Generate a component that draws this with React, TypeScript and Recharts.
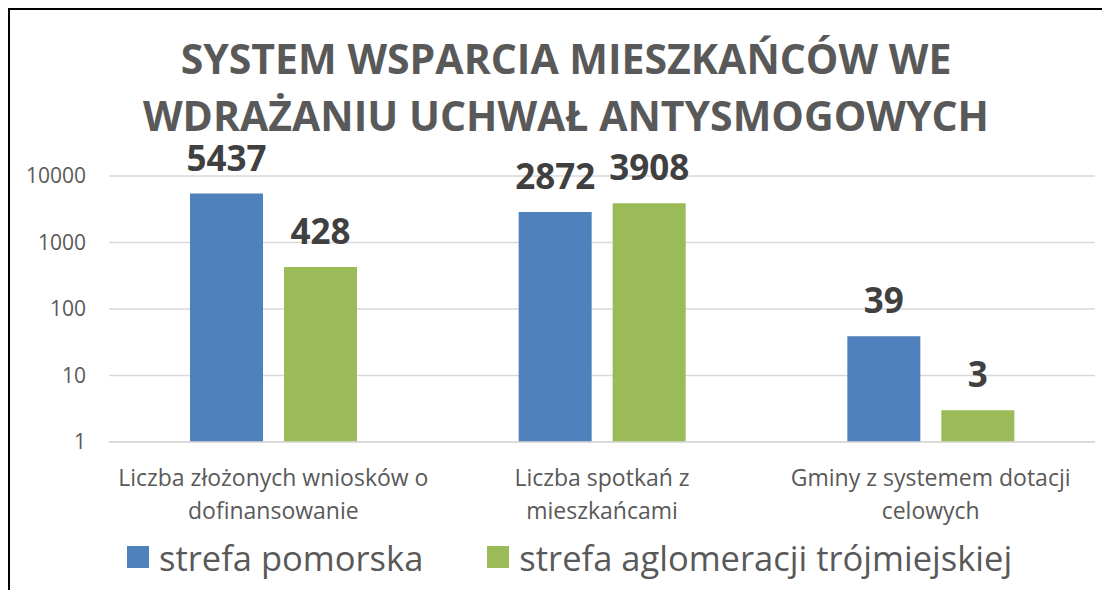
import { BarChart, Bar, XAxis, YAxis, CartesianGrid, Legend, LabelList } from "recharts";

const categories = [
  "Liczba złożonych wniosków o\ndofinansowanie",
  "Liczba spotkań z\nmieszkańcami",
  "Gminy z systemem dotacji\ncelowych",
];
const pomorska = [5437, 2872, 39];
const trojmiejska = [428, 3908, 3];
const yTicks = [1, 10, 100, 1000, 10000];
const seriesNames = ["strefa pomorska", "strefa aglomeracji trójmiejskiej"];
const colors = ["#4f81bd", "#9bbb59"];
const titleLines = ["SYSTEM WSPARCIA MIESZKAŃCÓW WE", "WDRAŻANIU UCHWAŁ ANTYSMOGOWYCH"];

const data = categories.map((name, i) => ({
  name,
  pomorska: pomorska[i],
  trojmiejska: trojmiejska[i],
}));

const font = "'Open Sans', sans-serif";

function CategoryTick({ x, y, payload }: any) {
  const lines = String(payload.value).split("\n");
  return (
    <text x={x} y={y} textAnchor="middle" fill="#595959" fontSize={23} fontFamily={font}>
      {lines.map((l, i) => (
        <tspan key={i} x={x} dy={i === 0 ? 42 : 33}>
          {l}
        </tspan>
      ))}
    </text>
  );
}

function ValueTick({ x, y, payload }: any) {
  return (
    <text x={x} y={y} dy={7} textAnchor="end" fill="#595959" fontSize={21} fontFamily={font}>
      {payload.value}
    </text>
  );
}

function LegendBox() {
  return (
    <div style={{ display: "flex", alignItems: "center", height: 60, paddingLeft: 117, fontFamily: font }}>
      {seriesNames.map((n, i) => (
        <div key={n} style={{ display: "flex", alignItems: "center", marginRight: 64 }}>
          <span style={{ width: 22, height: 22, background: colors[i], display: "inline-block", marginRight: 10 }} />
          <span style={{ fontSize: 34.5, color: "#595959", whiteSpace: "nowrap" }}>{n}</span>
        </div>
      ))}
    </div>
  );
}

export default function App() {
  return (
    <div
      style={{
        position: "relative",
        width: 1092,
        height: 580,
        borderLeft: "2px solid #000",
        borderTop: "2px solid #000",
        overflow: "hidden",
        background: "#fff",
      }}
    >
      <BarChart
        width={1092}
        height={580}
        data={data}
        margin={{ top: 166, right: 7, bottom: 3, left: 0 }}
        barCategoryGap={81}
        barGap={21}
      >
        <text x={556} y={64} textAnchor="middle" fill="#595959" fontSize={41} fontWeight={700} fontFamily={font}>
          {titleLines[0]}
        </text>
        <text x={556} y={121} textAnchor="middle" fill="#595959" fontSize={41} fontWeight={700} fontFamily={font}>
          {titleLines[1]}
        </text>
        <CartesianGrid vertical={false} stroke="#d9d9d9" strokeWidth={1.5} />
        <XAxis
          dataKey="name"
          height={85}
          axisLine={{ stroke: "#d9d9d9", strokeWidth: 1.5 }}
          tickLine={false}
          tickSize={0}
          tick={<CategoryTick />}
          interval={0}
        />
        <YAxis
          scale="log"
          domain={[1, 10000]}
          ticks={yTicks}
          width={99}
          axisLine={false}
          tickLine={false}
          tickSize={0}
          tickMargin={23}
          allowDataOverflow
          tick={<ValueTick />}
        />
        <Legend verticalAlign="bottom" height={60} content={() => <LegendBox />} />
        <Bar dataKey="pomorska" name={seriesNames[0]} fill={colors[0]} isAnimationActive={false}>
          <LabelList dataKey="pomorska" position="top" offset={23} fill="#404040" fontSize={35} fontWeight={700} fontFamily={font} />
        </Bar>
        <Bar dataKey="trojmiejska" name={seriesNames[1]} fill={colors[1]} isAnimationActive={false}>
          <LabelList dataKey="trojmiejska" position="top" offset={23} fill="#404040" fontSize={35} fontWeight={700} fontFamily={font} />
        </Bar>
      </BarChart>
    </div>
  );
}
